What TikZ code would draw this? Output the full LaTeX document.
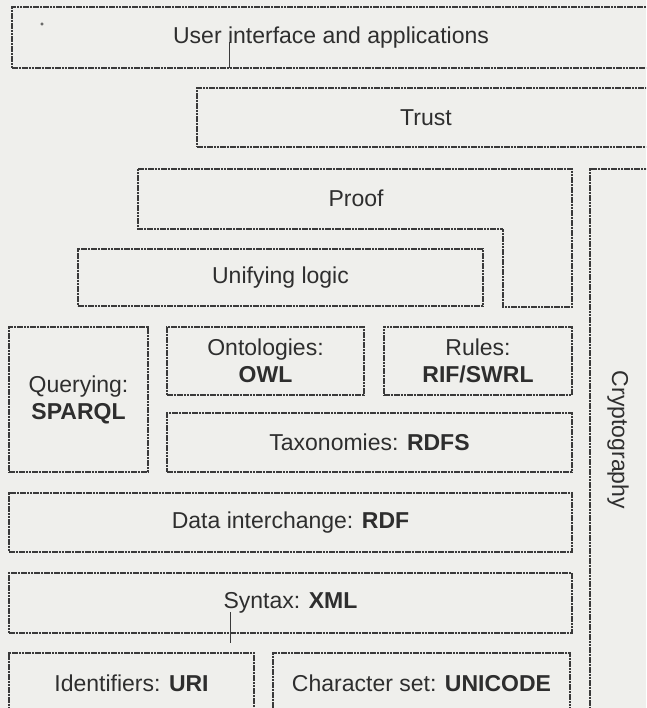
\documentclass[tikz,border=0pt]{standalone}
\usepackage{fontspec}
\setmainfont{Liberation Sans}
\definecolor{paper}{HTML}{EFEFEC}
\definecolor{ink}{HTML}{3A3A3A}
\tikzset{
  layer/.style={draw=ink, line width=1.1pt, dash pattern=on 2.6pt off 0.7pt, rectangle, inner sep=0pt, align=center, text=ink!80!black},
  lbl/.style={text=ink!80!black, inner sep=0pt, align=center},
}
\newcommand{\layerfont}{\fontsize{23}{29}\selectfont}
\begin{document}
\begin{tikzpicture}[x=1pt,y=-1pt,font=\layerfont]
\useasboundingbox (0,0) rectangle (646,708);
\fill[paper] (0,0) rectangle (646,708);
\clip (0,0) rectangle (646,708);
% top layers
\node[layer, minimum width=638pt, minimum height=61pt] (ui) at (331,37.5) {User interface and applications};
\node[layer, minimum width=458pt, minimum height=59pt] (trust) at (426,117.5) {Trust};
% Proof (L-shaped)
\draw[layer] (138,169) -- (572,169) -- (572,307) -- (503,307) -- (503,229) -- (138,229) -- cycle;
\node[lbl] (proof) at (356,198) {Proof};
\node[layer, minimum width=405pt, minimum height=57pt] (logic) at (280.5,277.5) {Unifying logic};
% middle
\node[layer, minimum width=139pt, minimum height=145pt] (query) at (78.5,399.5) {Querying:\\[-2pt]\textbf{SPARQL}};
\node[layer, minimum width=197pt, minimum height=68pt] (onto) at (265.5,361) {Ontologies:\\[-2pt]\textbf{OWL}};
\node[layer, minimum width=188pt, minimum height=68pt] (rules) at (478,361) {Rules:\\[-2pt]\textbf{RIF/SWRL}};
\node[layer, minimum width=405pt, minimum height=59pt] (tax) at (369.5,442.5) {Taxonomies: \textbf{RDFS}};
\node[layer, minimum width=563pt, minimum height=59pt] (rdf) at (290.5,522.5) {Data interchange: \textbf{RDF}};
\node[layer, minimum width=563pt, minimum height=60pt] (xml) at (290.5,603) {Syntax: \textbf{XML}};
\node[layer, minimum width=245pt, minimum height=60pt] (uri) at (131.5,683) {Identifiers: \textbf{URI}};
\node[layer, minimum width=297pt, minimum height=60pt] (uni) at (421.5,683) {Character set: \textbf{UNICODE}};
% cryptography column
\node[layer, minimum width=70pt, minimum height=560pt] (crypto) at (625,449) {};
\node[lbl, rotate=-90] (cryptolbl) at (618,440) {Cryptography};
% scan marks
\coordinate (m1a) at (229,42); \coordinate (m1b) at (229,68);
\coordinate (m2a) at (230,612); \coordinate (m2b) at (230,643);
\draw[ink, line width=0.8pt] (m1a) -- (m1b);
\draw[ink, line width=0.8pt] (m2a) -- (m2b);
\draw[ink, line width=0.5pt] (42,24) circle (1.3pt);
\end{tikzpicture}
\end{document}
